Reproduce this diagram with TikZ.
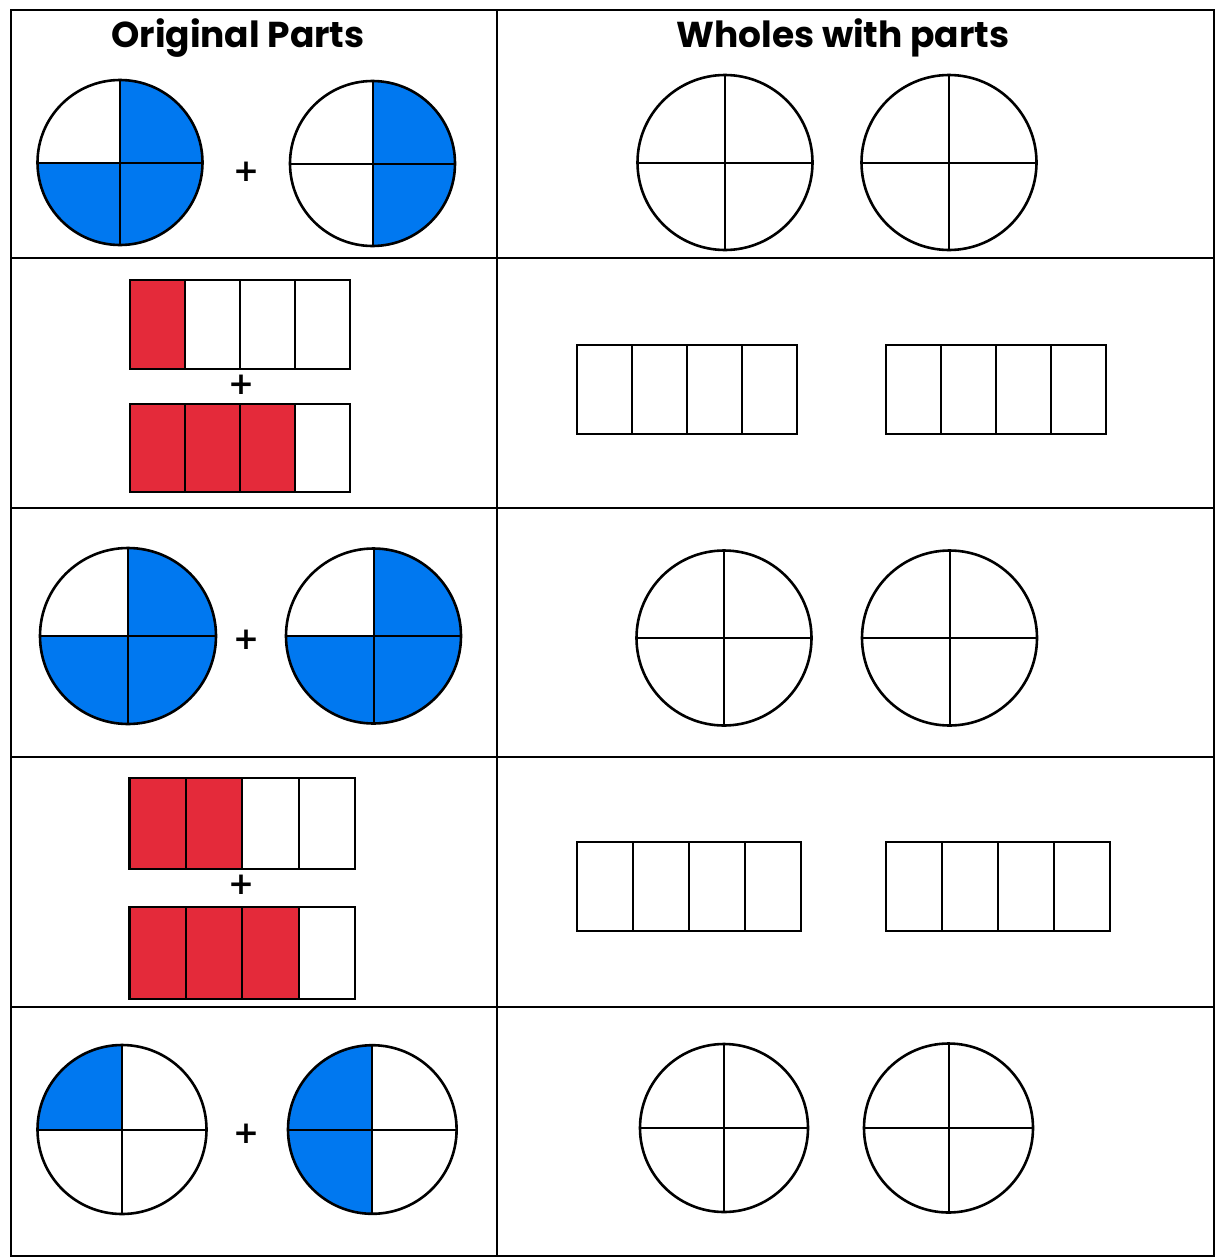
\documentclass[tikz,border=0pt]{standalone}
\usepackage{fontspec}
\newfontfamily\titlefont{Poppins}
\newfontfamily\plusfont{DejaVu Sans}
\definecolor{fracblue}{RGB}{0,120,240}
\definecolor{fracred}{RGB}{228,42,58}
\tikzset{
  grid line/.style={line width=2pt, black},
  pie/.style={circle, draw=black, line width=2.6pt, inner sep=0pt, minimum size=#1},
  divider/.style={line width=2pt, black},
  title/.style={font=\titlefont\bfseries\fontsize{36}{36}\selectfont, anchor=base, inner sep=0pt},
  plus/.style={font=\plusfont\bfseries\fontsize{31}{31}\selectfont, inner sep=0pt},
  barcell/.style={draw=black, line width=2pt},
  barframe/.style={draw=black, line width=2.6pt},
}
% pie: name, cx, cy, r
\newcommand\mypie[4]{%
  \node[pie={2*#4 pt}] (#1) at (#2,#3) {};
}
\newcommand\pielines[1]{%
  \draw[divider] (#1.north) -- (#1.south);
  \draw[divider] (#1.west) -- (#1.east);
}
% quarter fill: cx, cy, r, dx, dy (dx,dy = +-1, page coordinates, y down)
\newcommand\qfill[5]{%
  \begin{scope}
    \clip (#1,#2) circle[radius=#3pt];
    \fill[fracblue] (#1,#2) rectangle ++({#4*(#3+2)},{#5*(#3+2)});
  \end{scope}
}
% bar: x0, y0, x1, y1, number of red cells
\newcommand\mybar[5]{%
  \pgfmathsetmacro\cw{(#3-#1)/4}
  \foreach \i in {1,...,4}{%
    \pgfmathsetmacro\xa{#1+(\i-1)*\cw}
    \pgfmathsetmacro\xb{#1+\i*\cw}
    \ifnum\i>#5\relax
      \draw[barcell, fill=white] (\xa,#2) rectangle (\xb,#4);
    \else
      \draw[barcell, fill=fracred] (\xa,#2) rectangle (\xb,#4);
    \fi
  }
  \draw[barframe] (#1,#2) rectangle (#3,#4);
}
\begin{document}
\begin{tikzpicture}[x=1pt, y=-1pt]
\useasboundingbox (0,0) rectangle (1218,1258);
\fill[white] (0,0) rectangle (1218,1258);

% table
\draw[grid line] (10.5,9.5) rectangle (1213.5,1256);
\draw[grid line] (497,9.5) -- (497,1256);
\foreach \yy in {258,508,757,1007}{ \draw[grid line] (10.5,\yy) -- (1213.5,\yy); }

% titles
\node[title] (t1) at (238,47) {Original Parts};
\node[title] (t2) at (843,47) {Wholes with parts};

% ---------- Row 1 ----------
\qfill{120}{162.5}{82.5}{1}{-1}
\qfill{120}{162.5}{82.5}{-1}{1}
\qfill{120}{162.5}{82.5}{1}{1}
\mypie{a1}{120}{162.5}{82.5}\pielines{a1}
\node[plus] (p1) at (246.5,172) {+};
\qfill{372.5}{163.5}{82.5}{1}{-1}
\qfill{372.5}{163.5}{82.5}{1}{1}
\mypie{b1}{372.5}{163.5}{82.5}\pielines{b1}
\mypie{c1}{725}{162.5}{87.5}\pielines{c1}
\mypie{d1}{949}{162.5}{87.5}\pielines{d1}

% ---------- Row 2 ----------
\mybar{130}{280}{350}{369}{1}
\node[plus] (p2) at (241.5,385) {+};
\mybar{130}{404}{350}{492}{3}
\mybar{577}{345}{797}{434}{0}
\mybar{886}{345}{1106}{434}{0}

% ---------- Row 3 ----------
\qfill{128}{636}{88}{1}{-1}
\qfill{128}{636}{88}{-1}{1}
\qfill{128}{636}{88}{1}{1}
\mypie{a3}{128}{636}{88}\pielines{a3}
\node[plus] (p3) at (246,640) {+};
\qfill{373.5}{636}{87.5}{1}{-1}
\qfill{373.5}{636}{87.5}{-1}{1}
\qfill{373.5}{636}{87.5}{1}{1}
\mypie{b3}{373.5}{636}{87.5}\pielines{b3}
\mypie{c3}{724}{638}{87.5}\pielines{c3}
\mypie{d3}{949.5}{638}{87.5}\pielines{d3}

% ---------- Row 4 ----------
\mybar{129.5}{778}{355}{869}{2}
\node[plus] (p4) at (241.5,885) {+};
\mybar{129.5}{907}{355}{999}{3}
\mybar{577}{842}{801}{931}{0}
\mybar{886}{842}{1110}{931}{0}

% ---------- Row 5 ----------
\qfill{122}{1129.5}{84.5}{-1}{-1}
\mypie{a5}{122}{1129.5}{84.5}\pielines{a5}
\node[plus] (p5) at (246.5,1134) {+};
\qfill{372.3}{1129.5}{84.3}{-1}{-1}
\qfill{372.3}{1129.5}{84.3}{-1}{1}
\mypie{b5}{372.3}{1129.5}{84.3}\pielines{b5}
\mypie{c5}{724}{1128}{84}\pielines{c5}
\mypie{d5}{948.5}{1128}{84.5}\pielines{d5}
\end{tikzpicture}
\end{document}
